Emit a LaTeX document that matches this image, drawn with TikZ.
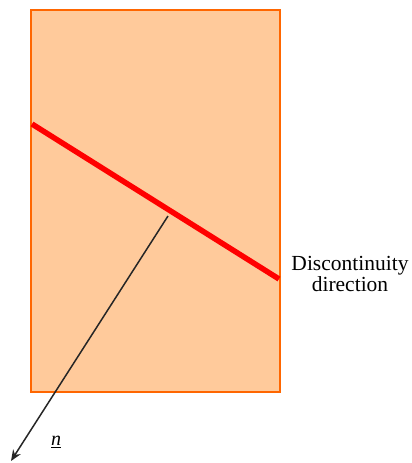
\documentclass[tikz,border=0pt]{standalone}
\usepackage{fontspec}
\setmainfont{Liberation Serif}
\usetikzlibrary{arrows.meta}
\definecolor{peach}{RGB}{255,202,155}
\definecolor{edgeor}{RGB}{255,102,0}
\definecolor{redline}{RGB}{255,0,0}
\begin{document}
\begin{tikzpicture}[x=1pt,y=-1pt,
  panel/.style={draw=edgeor,fill=peach,line width=2pt},
  disc/.style={draw=redline,line width=5.5pt},
  normal/.style={draw=black!85,line width=1.5pt,-{Stealth[length=11pt,width=9pt]}},
  lbl/.style={font=\fontsize{21.5}{21.5}\selectfont,align=center}]
\useasboundingbox (0,0) rectangle (412,463);
\draw[panel] (31,10) rectangle (280,392);
\coordinate (d1) at (32,124);
\coordinate (d2) at (279,279);
\draw[disc] (d1) -- (d2);
\coordinate (base) at (168,216);
\coordinate (tip) at (11,461);
\draw[normal] (base) -- (tip);
\node[lbl] (dtext) at (350,274) {Discontinuity\\direction};
\node[font=\fontsize{20}{20}\selectfont] (nlab) at (56,442) {\underline{\textit{n}}};
\end{tikzpicture}
\end{document}
